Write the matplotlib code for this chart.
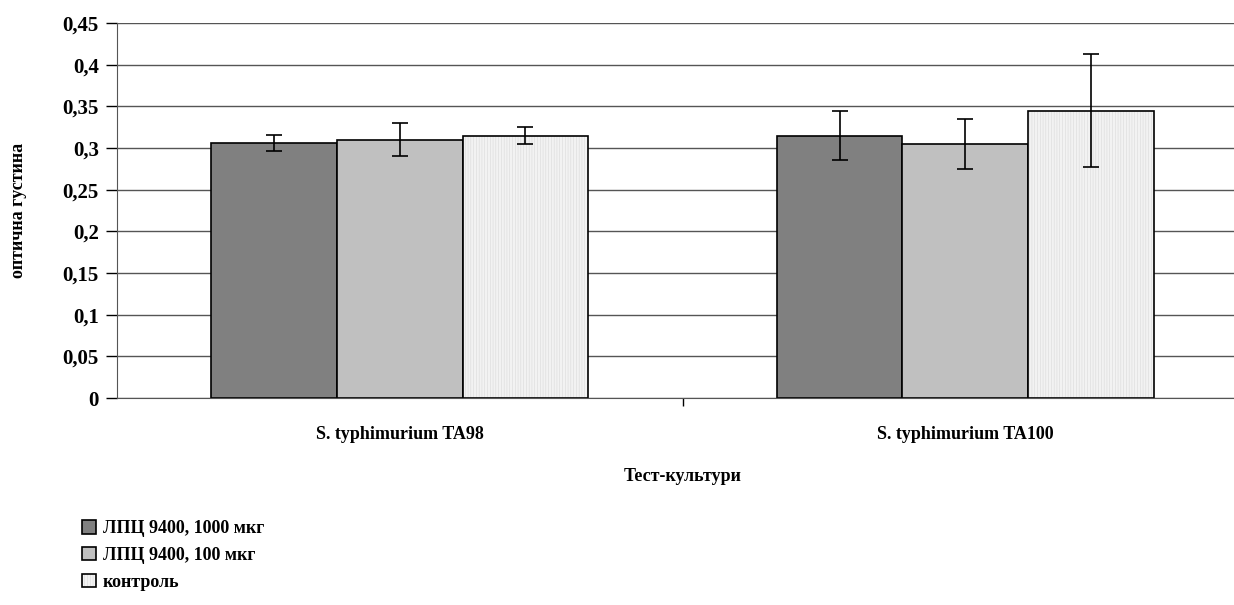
import numpy as np
import matplotlib.pyplot as plt

plt.rcParams["font.family"] = ["Liberation Serif", "DejaVu Serif"]
plt.rcParams["font.weight"] = "bold"
plt.rcParams["axes.labelweight"] = "bold"
plt.rcParams["hatch.linewidth"] = 0.4

categories = ["S. typhimurium TA98", "S. typhimurium TA100"]
series_names = ["ЛПЦ 9400, 1000 мкг", "ЛПЦ 9400, 100 мкг", "контроль"]
values = [
    [0.306, 0.315],
    [0.310, 0.305],
    [0.315, 0.345],
]
errors = [
    [0.010, 0.030],
    [0.020, 0.030],
    [0.010, 0.068],
]
colors = ["#808080", "#c0c0c0", "#f2f2f2"]
hatches = [None, None, "||||||"]

fig = plt.figure(figsize=(12.34, 6.05), dpi=100)
ax = fig.add_axes([117 / 1234, 1 - 398 / 605, 1131 / 1234, 375 / 605])

x = np.arange(len(categories))
width = 0.222
for i, name in enumerate(series_names):
    pos = x + (i - 1) * width
    bars = ax.bar(pos, values[i], width, color=colors[i], edgecolor="black",
                  linewidth=1.2, label=name, zorder=2)
    if hatches[i]:
        for b in bars:
            b.set_hatch(hatches[i])
            b._hatch_color = (0.85, 0.85, 0.85, 1)
    ax.errorbar(pos, values[i], yerr=errors[i], fmt="none", ecolor="black",
                elinewidth=1.2, capsize=5.5, capthick=1.2, zorder=3)

ax.set_ylim(0, 0.45)
ax.set_xlim(-0.5, 1.5)
yt = np.arange(0, 0.451, 0.05)
ax.set_yticks(yt)
ax.set_yticklabels(["0" if v == 0 else f"{v:.2f}".rstrip("0").replace(".", ",")
                    for v in yt], fontsize=15, fontweight="bold")
ax.yaxis.grid(True, color="#555555", linewidth=1, zorder=0)
ax.set_axisbelow(True)
ax.tick_params(axis="y", direction="out", length=8, width=1, pad=5)

ax.set_xticks([0.5], minor=True)
ax.set_xticks(x)
ax.set_xticklabels(categories, fontsize=13, fontweight="bold")
ax.tick_params(axis="x", which="major", length=0, pad=20)
ax.tick_params(axis="x", which="minor", length=6, width=1, direction="out")

for s in ["top", "right"]:
    ax.spines[s].set_visible(False)
ax.spines["left"].set_color("#555555")
ax.spines["bottom"].set_color("#555555")

ax.set_ylabel("оптична густина", fontsize=13, fontweight="bold")
ax.yaxis.set_label_coords(-90 / 1131, 0.5)
ax.set_xlabel("Тест-культури", fontsize=13, fontweight="bold", labelpad=18)

fig.legend(loc="upper left", bbox_to_anchor=(66 / 1234, 1 - 504 / 605),
           frameon=False, prop={"size": 13, "weight": "bold"},
           handlelength=0.75, handleheight=0.75,
           handletextpad=0.4, labelspacing=0.55)

fig.savefig("out.png", dpi=100)
